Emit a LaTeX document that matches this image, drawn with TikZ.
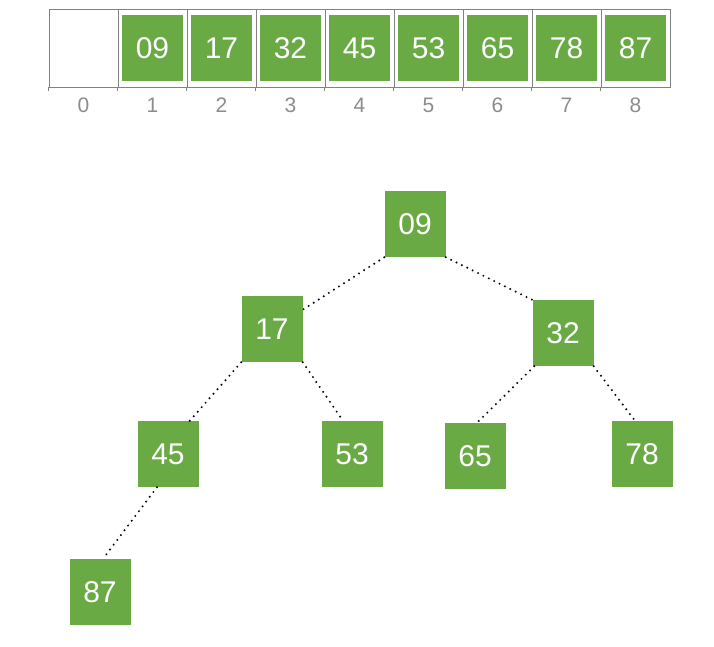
\documentclass[tikz,border=0pt]{standalone}
\usepackage{fontspec}
\setmainfont{Liberation Sans}
\definecolor{heapgreen}{RGB}{106,170,69}
\definecolor{idxgray}{RGB}{140,140,140}
\definecolor{cellgray}{RGB}{130,130,130}
\tikzset{
  cell/.style={draw=cellgray, line width=0.8pt, minimum width=69pt, minimum height=78pt, inner sep=0pt},
  key/.style={fill=heapgreen, text=white, minimum width=61pt, minimum height=66pt, inner sep=0pt, font=\fontsize{30}{32}\selectfont},
  idx/.style={text=idxgray, font=\fontsize{21}{23}\selectfont},
  tick/.style={draw=cellgray, line width=0.8pt},
  edge/.style={line width=2.2pt, line cap=round, dash pattern=on 0pt off 6pt}
}
\begin{document}
\begin{tikzpicture}[x=1pt,y=-1pt]
    \useasboundingbox (0,0) rectangle (714,646);

    % array
    \node[cell] (c0) at (83.5,48) {};
    \node[cell] (c1) at (152.5,48) {};
    \node[cell] (c2) at (221.5,48) {};
    \node[cell] (c3) at (290.5,48) {};
    \node[cell] (c4) at (359.5,48) {};
    \node[cell] (c5) at (428.5,48) {};
    \node[cell] (c6) at (497.5,48) {};
    \node[cell] (c7) at (566.5,48) {};
    \node[cell] (c8) at (635.5,48) {};

    \draw[tick] (c0.south west) -- ++(0,4);
    \draw[tick] (c1.south west) -- ++(0,4);
    \draw[tick] (c2.south west) -- ++(0,4);
    \draw[tick] (c3.south west) -- ++(0,4);
    \draw[tick] (c4.south west) -- ++(0,4);
    \draw[tick] (c5.south west) -- ++(0,4);
    \draw[tick] (c6.south west) -- ++(0,4);
    \draw[tick] (c7.south west) -- ++(0,4);
    \draw[tick] (c8.south west) -- ++(0,4);

    \node[key] (a1) at (c1) {09};
    \node[key] (a2) at (c2) {17};
    \node[key] (a3) at (c3) {32};
    \node[key] (a4) at (c4) {45};
    \node[key] (a5) at (c5) {53};
    \node[key] (a6) at (c6) {65};
    \node[key] (a7) at (c7) {78};
    \node[key] (a8) at (c8) {87};

    \node[idx] (i0) at (83.5,105) {0};
    \node[idx] (i1) at (152.5,105) {1};
    \node[idx] (i2) at (221.5,105) {2};
    \node[idx] (i3) at (290.5,105) {3};
    \node[idx] (i4) at (359.5,105) {4};
    \node[idx] (i5) at (428.5,105) {5};
    \node[idx] (i6) at (497.5,105) {6};
    \node[idx] (i7) at (566.5,105) {7};
    \node[idx] (i8) at (635.5,105) {8};

    % tree
    \node[key] (n09) at (415,224) {09};
    \node[key] (n17) at (272,329) {17};
    \node[key] (n32) at (563,333) {32};
    \node[key] (n45) at (168,454) {45};
    \node[key] (n53) at (352,454) {53};
    \node[key] (n65) at (475,456) {65};
    \node[key] (n78) at (642,454) {78};
    \node[key] (n87) at (100,592) {87};

    \draw[edge] (n09.south west) -- ([yshift=-14pt]n17.north east);
    \draw[edge] (n09.south east) -- (n32.north west);
    \draw[edge] (n17.south west) -- ([xshift=-9pt]n45.north east);
    \draw[edge] (n17.south east) -- ([xshift=-9pt]n53.north);
    \draw[edge] ([xshift=2pt]n32.south west) -- ([xshift=2pt]n65.north);
    \draw[edge] (n32.south east) -- ([xshift=-7pt]n78.north);
    \draw[edge] ([xshift=-11pt]n45.south) -- ([xshift=3pt]n87.north);
\end{tikzpicture}
\end{document}
